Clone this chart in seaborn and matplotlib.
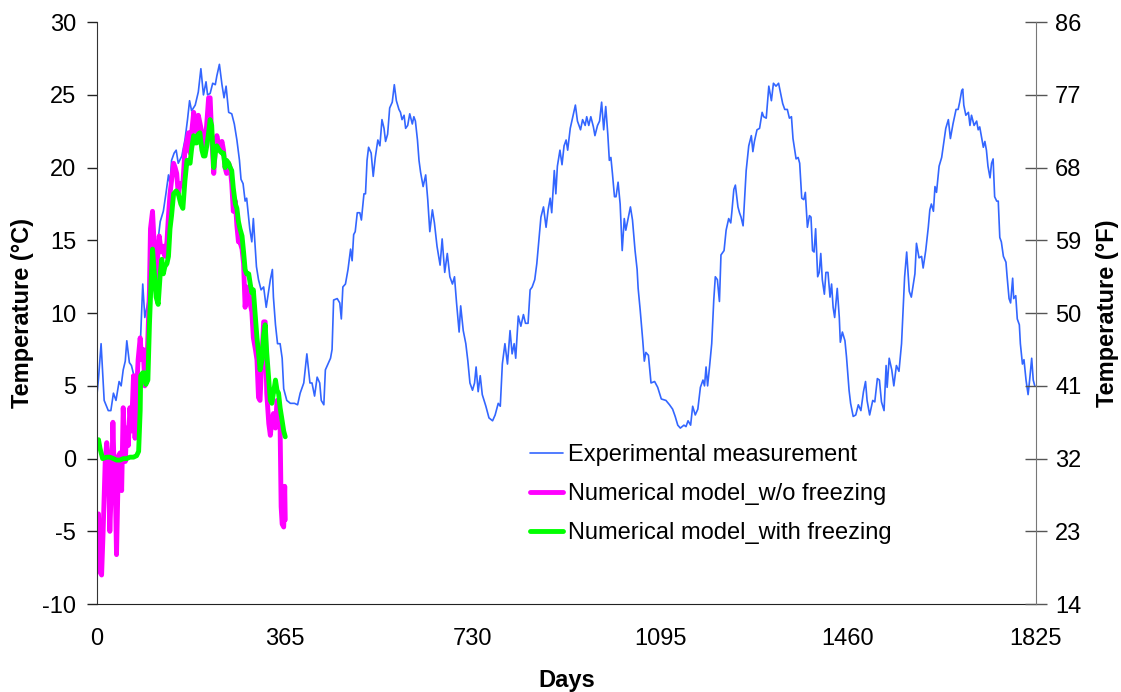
import matplotlib
matplotlib.use("Agg")
import matplotlib.pyplot as plt
import seaborn as sns
import pandas as pd

# ---------------- data ----------------
exp_days = [0, 3, 8, 14, 22, 27, 32, 37, 43, 47, 51, 55, 58, 63, 67, 74, 80, 85, 89, 93,
            98, 103, 110, 116, 123, 129, 134, 139, 142, 145, 150, 154, 158, 165, 171, 176, 180, 184, 191, 197,
            202, 207, 212, 215, 220, 225, 230, 233, 238, 243, 247, 251, 256, 262, 267, 272, 277, 280, 284, 288,
            291, 297, 301, 304, 310, 314, 319, 324, 329, 334, 337, 341, 343, 347, 351, 356, 360, 363, 369, 376,
            384, 390,
            395, 402, 408, 414, 418, 423, 428, 433, 436, 441, 444, 449, 454, 457, 460, 467, 472, 475, 478, 483,
            488, 493, 496, 499, 502, 506, 511, 514, 519, 522, 525, 528, 533, 537, 541, 546, 550, 554, 558, 561,
            565, 569, 574, 578, 582, 587, 590, 593, 597, 600, 604, 608, 613, 616, 619, 623, 626, 629, 634, 639,
            643, 647, 652, 656, 661, 667, 671, 676, 681, 686, 691, 695, 699, 704, 707, 712, 717, 721, 725, 730,
            734, 737, 741, 745, 749, 756, 762, 769, 774, 780, 784, 788, 793, 798, 803, 807, 811, 814, 819, 824,
            829, 833, 838, 842, 846, 851, 855, 859,
            863, 868, 873, 877, 881, 884, 889, 892, 895, 900, 904, 908, 912, 915, 920, 925, 930, 934, 940, 944,
            949, 952, 956, 960, 965, 968, 973, 977, 981, 985, 989, 993, 996, 999, 1002, 1006, 1009, 1013, 1017, 1021,
            1025, 1028, 1033, 1037, 1041, 1046, 1050, 1052, 1056, 1061, 1064, 1067, 1072, 1077, 1084, 1090, 1097, 1106, 1113, 1119,
            1124, 1129, 1134, 1141, 1145, 1149, 1154, 1158, 1163, 1168, 1173, 1178, 1181, 1184, 1187, 1191, 1195, 1199, 1202, 1206,
            1210, 1213, 1219, 1223, 1228, 1232, 1234, 1238, 1241, 1246, 1249, 1252, 1256, 1259, 1262, 1267, 1272, 1275, 1278, 1283,
            1288, 1293, 1296, 1301, 1306, 1311, 1315, 1320, 1325,
            1333, 1337, 1342, 1346, 1350, 1353, 1359, 1363, 1366, 1370, 1374, 1377, 1381, 1385, 1388, 1391, 1394, 1397, 1401, 1404,
            1407, 1410, 1414, 1417, 1421, 1425, 1428, 1431, 1434, 1439, 1443, 1445, 1449, 1454, 1457, 1462, 1465, 1470, 1475, 1480,
            1485, 1490, 1494, 1497, 1502, 1508, 1512, 1517, 1521, 1525, 1530, 1534, 1536, 1540, 1545, 1549, 1554, 1559, 1564, 1567,
            1570, 1574, 1579, 1583, 1587, 1590, 1593, 1598, 1603, 1606, 1611, 1616, 1619, 1622, 1626, 1629, 1632, 1637, 1642, 1646,
            1650, 1655, 1659, 1664, 1670, 1674, 1677, 1681, 1683, 1685, 1689, 1694, 1697, 1700, 1705, 1710, 1713, 1716, 1720, 1723,
            1726, 1729, 1732, 1736, 1739, 1742, 1745, 1749, 1752, 1755, 1758, 1762, 1767, 1769, 1773, 1776, 1780, 1782, 1786, 1789,
            1793, 1795, 1799, 1802, 1806, 1810, 1813, 1817, 1820, 1823]
exp_temp = [4.4, 5.5, 7.9, 4.0, 3.3, 3.3, 4.5, 4.0, 5.3, 5.0, 6.1, 6.7, 8.1, 6.6, 6.4, 5.4, 5.5, 8.5, 12.0, 9.7,
            10.6, 11.6, 13.9, 14.2, 16.3, 17.0, 18.2, 19.5, 18.9, 20.5, 21.0, 21.2, 20.3, 20.8, 21.9, 23.3, 24.6, 23.9, 24.3, 25.2,
            26.8, 25.0, 25.9, 25.0, 25.1, 25.8, 25.7, 26.3, 27.1, 25.7, 24.8, 25.6, 23.8, 23.7, 23.0, 21.9, 20.5, 19.2, 18.9, 17.7,
            17.9, 15.8, 14.9, 16.5, 13.2, 12.3, 11.6, 11.8, 10.4, 11.6, 12.3, 13.0, 11.1, 9.2, 7.9, 7.9, 6.9, 4.8, 4.0, 3.8,
            3.8, 3.7,
            4.5, 5.2, 7.2, 5.2, 5.2, 4.3, 5.6, 5.2, 4.0, 3.7, 6.1, 6.5, 6.9, 7.5, 10.9, 11.0, 10.7, 9.6, 11.8, 12.0,
            13.0, 14.4, 13.6, 15.4, 15.6, 16.9, 16.9, 16.4, 18.2, 18.2, 20.5, 21.4, 21.0, 19.4, 20.7, 21.9, 21.5, 23.3, 22.7, 21.8,
            22.3, 24.1, 24.5, 25.7, 24.6, 24.0, 23.8, 23.3, 23.6, 22.7, 22.9, 23.7, 23.0, 23.5, 23.2, 21.9, 20.5, 19.7, 18.7, 19.5,
            17.8, 15.6, 17.1, 16.2, 14.6, 13.3, 15.1, 12.8, 14.1, 12.5, 12.0, 12.5, 10.7, 8.7, 10.5, 8.8, 7.9, 6.7, 5.2, 4.7,
            5.2, 6.3, 4.6, 5.7, 4.4, 3.6, 2.8, 2.6, 3.0, 3.8, 3.6, 6.5, 7.9, 6.5, 8.8, 7.2, 7.9, 6.9, 9.8, 9.1,
            9.9, 9.3, 9.3, 11.6, 11.8, 12.3, 13.4, 15.0,
            16.6, 17.3, 15.9, 17.1, 17.9, 16.9, 19.8, 18.2, 20.1, 21.2, 20.2, 21.5, 21.9, 21.2, 22.7, 23.5, 24.3, 23.2, 22.6, 23.3,
            22.9, 23.5, 22.9, 23.5, 22.8, 22.2, 22.9, 23.2, 24.5, 22.6, 24.2, 22.3, 20.5, 20.7, 19.6, 18.0, 18.0, 19.0, 17.5, 14.3,
            16.5, 15.7, 16.6, 17.3, 16.4, 14.3, 13.0, 11.7, 10.2, 8.1, 6.7, 7.3, 7.1, 5.2, 5.3, 4.9, 4.1, 4.0, 3.7, 3.4,
            2.9, 2.3, 2.1, 2.3, 2.2, 2.6, 2.3, 3.6, 3.0, 3.4, 4.9, 5.4, 5.0, 6.3, 5.0, 6.4, 7.9, 10.9, 12.5, 12.3,
            10.8, 14.0, 14.3, 15.7, 16.5, 16.2, 16.9, 18.5, 18.8, 17.3, 16.9, 16.6, 16.0, 17.9, 19.8, 21.5, 22.2, 21.1, 21.8, 22.6,
            22.7, 23.8, 23.5, 23.4, 25.6, 24.6, 25.8, 25.6, 25.8,
            24.4, 24.0, 24.0, 23.4, 23.5, 22.0, 20.6, 20.7, 20.3, 17.9, 17.8, 18.3, 15.9, 16.7, 16.6, 14.3, 14.2, 15.8, 12.5, 12.8,
            14.1, 12.3, 11.3, 12.8, 12.8, 11.1, 12.0, 10.4, 9.7, 11.7, 9.7, 8.0, 8.7, 8.1, 7.0, 4.7, 3.8, 2.9, 3.0, 3.7,
            3.3, 4.6, 5.3, 4.0, 3.0, 4.0, 3.9, 5.5, 5.4, 3.9, 3.3, 6.4, 4.9, 6.9, 6.1, 5.0, 6.4, 6.0, 7.9, 10.2,
            12.5, 14.2, 11.5, 11.1, 12.0, 12.7, 14.8, 13.8, 13.9, 13.1, 14.3, 15.9, 17.1, 17.5, 17.0, 18.7, 18.3, 20.1, 20.7, 21.7,
            22.7, 23.3, 22.0, 23.0, 24.0, 24.0, 24.5, 25.3, 25.4, 24.3, 23.6, 23.8, 22.9, 23.6, 22.9, 23.2, 22.6, 22.8, 22.0, 21.4,
            21.8, 21.2, 20.1, 19.3, 20.3, 20.6, 18.0, 17.7, 17.7, 15.2, 14.9, 13.9, 13.5, 12.6, 11.0, 10.7, 12.4, 11.0, 11.2, 9.6,
            9.2, 7.9, 6.5, 6.8, 5.4, 4.4, 5.4, 6.9, 5.4, 5.0]

model_days = [3, 6, 9, 12, 16, 19, 22, 25, 29, 31, 33, 36, 38, 42, 45, 48, 51, 55, 58, 61,
              64, 67, 71, 74, 77, 80, 84, 87, 90, 93, 98, 102, 104, 108, 111, 114, 117, 121, 125, 129,
              132, 136, 139, 142, 145, 149, 152, 155, 158, 162, 167, 171, 175, 178, 181, 184, 188, 191, 194, 197,
              200, 204, 207, 210, 214, 217, 220, 223, 227, 230, 233, 236, 240, 243, 246, 249, 252, 256, 259, 262,
              265, 269, 272, 275, 278, 282, 285, 288, 291, 295, 298, 301, 304, 308, 311, 314, 317, 321, 324, 327,
              330, 334, 337, 340, 343, 347, 350, 353, 356, 358, 360, 363, 365, 366]
no_freeze_temp = [-3.8, -7.8, -8.0, -5.0, -0.2, 1.1, 0.0, -5.0, -0.9, 2.5, -0.2, -2.6, -6.6, 0.2, 0.4, -2.2, 3.5, -0.2, 2.1, 0.9,
                  3.5, 1.9, 5.7, 1.4, 4.5, 6.8, 8.3, 6.8, 7.5, 5.0, 7.3, 11.6, 15.8, 17.0, 14.9, 11.6, 13.4, 15.3, 14.2, 14.6,
                  13.9, 14.9, 16.7, 18.2, 19.1, 20.3, 20.0, 19.6, 18.2, 18.9, 18.9, 21.2, 21.9, 22.4, 21.0, 22.4, 23.8, 23.1, 22.4, 23.6,
                  23.1, 22.4, 21.9, 21.5, 23.3, 24.8, 24.8, 22.2, 19.6, 21.2, 22.2, 21.7, 21.5, 21.8, 21.2, 20.0, 19.6, 20.3, 20.0, 18.9,
                  17.0, 17.7, 16.0, 14.9, 14.9, 14.4, 13.4, 10.4, 11.8, 11.6, 10.6, 10.1, 8.3, 7.5, 6.8, 4.2, 4.0, 7.1, 9.4, 9.4,
                  4.5, 2.4, 1.6, 2.6, 3.1, 2.1, 4.0, 3.1, 2.1, -3.3, -4.5, -4.7, -1.9, -4.2]

freeze_days = [3, 6, 11, 19, 25, 32, 38, 45, 51, 58, 64, 71, 77, 81, 84, 85, 89, 92, 95, 99,
               102, 105, 108, 111, 115, 119, 123, 126, 129, 132, 136, 139, 142, 145, 149, 154, 158, 163, 167, 171,
               175, 178, 181, 184, 188, 191, 194, 197, 200, 204, 207, 210, 214, 217, 220, 223, 227, 230, 233, 236,
               240, 243, 246, 249, 252, 256, 259, 262, 265, 269, 272, 275, 278, 282, 285, 288, 291, 295, 298, 301,
               304, 308, 311, 314, 317, 321, 324, 327, 330, 334, 337, 340, 343, 347, 350, 353, 356, 360, 363, 366]
freeze_temp = [1.3, 0.7, 0.0, 0.1, 0.1, 0.0, -0.1, -0.1, 0.0, 0.0, 0.1, 0.1, 0.2, 0.5, 3.3, 5.7, 5.9, 5.9, 5.1, 5.4,
               9.2, 12.0, 14.4, 13.0, 11.1, 10.6, 12.7, 13.7, 12.7, 13.2, 13.4, 13.9, 15.8, 16.7, 18.2, 18.4, 18.2, 17.5, 17.2, 19.1,
               20.5, 20.5, 20.3, 21.3, 22.2, 21.7, 21.7, 22.3, 22.4, 21.2, 20.8, 20.8, 21.6, 22.4, 23.3, 22.9, 20.0, 21.0, 21.5, 21.3,
               21.1, 21.0, 21.0, 20.0, 20.5, 20.3, 20.0, 19.8, 18.6, 17.5, 17.2, 16.3, 15.8, 15.3, 14.2, 13.0, 12.7, 12.7, 12.0, 11.4,
               11.6, 9.7, 8.3, 7.3, 6.1, 6.8, 8.5, 9.2, 7.3, 5.4, 4.0, 3.8, 4.5, 5.4, 4.7, 4.5, 3.5, 2.6, 1.9, 1.5]

x_ticks = [0, 365, 730, 1095, 1460, 1825]
c_ticks = [-10, -5, 0, 5, 10, 15, 20, 25, 30]
f_ticks = [14, 23, 32, 41, 50, 59, 68, 77, 86]

labels = ["Experimental measurement", "Numerical model_w/o freezing", "Numerical model_with freezing"]

# ---------------- plotting ----------------
sns.set_style("white")
plt.rcParams['font.family'] = ['Liberation Sans', 'DejaVu Sans']
plt.rcParams['axes.unicode_minus'] = False
plt.rcParams['text.color'] = 'black'
plt.rcParams['axes.labelcolor'] = 'black'
plt.rcParams['xtick.color'] = 'black'
plt.rcParams['ytick.color'] = 'black'

FS = 17

fig = plt.figure(figsize=(11.21, 6.92), dpi=100)
ax = fig.add_axes([0.0865, 0.127, 0.8375, 0.841])

df_exp = pd.DataFrame({"day": exp_days, "temp": exp_temp})
df_nf = pd.DataFrame({"day": model_days, "temp": no_freeze_temp})
df_f = pd.DataFrame({"day": freeze_days, "temp": freeze_temp})

sns.lineplot(data=df_exp, x="day", y="temp", ax=ax, color="#3366FF", linewidth=1.2,
             sort=False, estimator=None, label=labels[0])
sns.lineplot(data=df_nf, x="day", y="temp", ax=ax, color="#FF00FF", linewidth=3.5,
             sort=False, estimator=None, label=labels[1])
sns.lineplot(data=df_f, x="day", y="temp", ax=ax, color="#00FF00", linewidth=3.5,
             sort=False, estimator=None, label=labels[2])

ax.set_xlim(0, 1825)
ax.set_ylim(-10, 30)
ax.set_xticks(x_ticks)
ax.set_yticks(c_ticks)
ax.set_xlabel("Days", fontsize=FS, fontweight="bold", labelpad=14, color="black")
ax.set_ylabel("Temperature (°C)", fontsize=FS, fontweight="bold", labelpad=6, color="black")
ax.tick_params(axis="both", labelsize=FS, direction="out", length=7, width=1, color="#222222",
               labelcolor="black")
ax.tick_params(axis="x", pad=10)
ax.tick_params(axis="y", pad=8)

ax.spines["top"].set_visible(False)
ax.spines["right"].set_visible(False)
ax.spines["left"].set_color("#333333")
ax.spines["bottom"].set_color("#222222")

ax2 = ax.twinx()
ax2.set_ylim(14, 86)
ax2.set_yticks(f_ticks)
ax2.set_ylabel("Temperature (°F)", fontsize=FS, fontweight="bold", labelpad=10, color="black")
ax2.tick_params(axis="y", labelsize=FS, direction="inout", length=16, width=1, color="#555555",
                labelcolor="black", pad=6)
ax2.spines["top"].set_visible(False)
ax2.spines["left"].set_visible(False)
ax2.spines["bottom"].set_visible(False)
ax2.spines["right"].set_color("#777777")

leg = ax.legend(loc="upper left", bbox_to_anchor=(0.461, 0.275), frameon=False, fontsize=FS,
                handlelength=1.4, handletextpad=0.2, labelspacing=0.72, borderaxespad=0,
                borderpad=0)
for t in leg.get_texts():
    t.set_color("black")

fig.savefig("out.png", dpi=100)
